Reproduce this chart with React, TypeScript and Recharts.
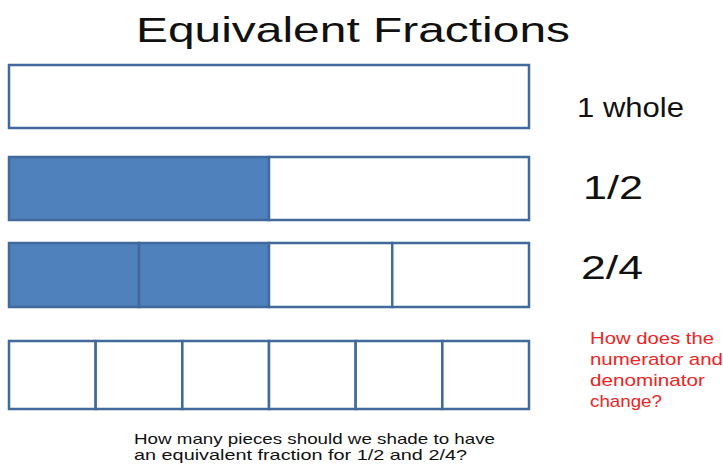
import React from 'react';
import { BarChart, Bar, XAxis, YAxis } from 'recharts';

// one row per fraction strip, pieces read left to right
const rowLabels = ['1 whole', '1/2', '2/4', ''];
const wholePieces = [1];
const halfPieces = [0.5, 0.5];
const quarterPieces = [0.25, 0.25, 0.237, 0.263];
const sixthPieces = [0.1667, 0.1667, 0.1667, 0.1667, 0.1667, 0.1667];
const shadedCounts = [0, 1, 2, 0];

const questionLines = ['How does the', 'numerator and', 'denominator', 'change?'];
const bottomLines = ['How many pieces should we shade to have', 'an equivalent fraction for 1/2 and 2/4?'];

const FILL = '#4f81bd';
const STROKE = '#41699c';
const FONT = '"Liberation Sans", Arial, sans-serif';

const rows = [wholePieces, halfPieces, quarterPieces, sixthPieces].map((pieces, r) => {
  const d: Record<string, number | string> = { label: rowLabels[r] };
  pieces.forEach((v, i) => (d[`s${i}`] = v));
  return { data: [d], count: pieces.length, shaded: shadedCounts[r] };
});

// box for each strip: top of chart and chart height
const rowBoxes = [
  { top: 63, height: 67 },
  { top: 155, height: 67 },
  { top: 241, height: 68 },
  { top: 339, height: 72 },
];

function Strip({ row, top, height }: { row: (typeof rows)[number]; top: number; height: number }) {
  return (
    <div style={{ position: 'absolute', left: 7, top }}>
      <BarChart
        layout="vertical"
        width={524}
        height={height}
        data={row.data}
        margin={{ top: 2, right: 2, bottom: 2, left: 2 }}
        barCategoryGap={0}
      >
        <XAxis type="number" domain={[0, 'dataMax']} hide />
        <YAxis type="category" dataKey="label" hide />
        {Array.from({ length: row.count }).map((_, i) => (
          <Bar
            key={i}
            dataKey={`s${i}`}
            stackId="a"
            fill={i < row.shaded ? FILL : '#ffffff'}
            stroke={STROKE}
            strokeWidth={2.5}
            isAnimationActive={false}
          />
        ))}
      </BarChart>
    </div>
  );
}

export default function App() {
  return (
    <div style={{ position: 'absolute', left: 0, top: 0, width: 723, height: 464, background: '#fff', overflow: 'hidden' }}>
      {rows.map((row, r) => (
        <Strip key={r} row={row} top={rowBoxes[r].top} height={rowBoxes[r].height} />
      ))}
      <svg width={723} height={464} style={{ position: 'absolute', left: 0, top: 0, pointerEvents: 'none' }} fontFamily={FONT}>
        <text x={136} y={42} fontSize={35} fill="#111" textLength={434} lengthAdjust="spacingAndGlyphs">
          Equivalent Fractions
        </text>
        <text x={577} y={117} fontSize={27} fill="#111" textLength={107} lengthAdjust="spacingAndGlyphs">
          {rowLabels[0]}
        </text>
        <text x={583} y={199} fontSize={33} fill="#111" textLength={60} lengthAdjust="spacingAndGlyphs">
          {rowLabels[1]}
        </text>
        <text x={581} y={279} fontSize={33} fill="#111" textLength={62} lengthAdjust="spacingAndGlyphs">
          {rowLabels[2]}
        </text>
        {questionLines.map((t, i) => (
          <text
            key={t}
            x={590}
            y={344 + i * 21}
            fontSize={17}
            fill="#ee2424"
            textLength={[124, 133, 115, 72][i]}
            lengthAdjust="spacingAndGlyphs"
          >
            {t}
          </text>
        ))}
        {bottomLines.map((t, i) => (
          <text
            key={t}
            x={134}
            y={444 + i * 16}
            fontSize={15}
            fill="#111"
            textLength={[361, 333][i]}
            lengthAdjust="spacingAndGlyphs"
          >
            {t}
          </text>
        ))}
      </svg>
    </div>
  );
}
